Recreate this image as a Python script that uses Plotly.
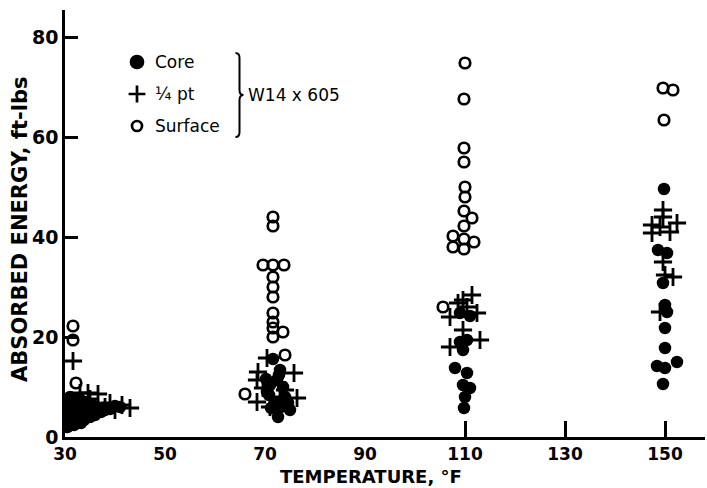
import plotly.graph_objects as go

# ---- data (temperature °F, absorbed energy ft-lbs) ----
core_T = [30.4, 30.8, 31.2, 31.5, 32.0, 32.6, 33.0, 33.6, 34.2, 35.0, 35.6, 36.4, 37.2, 38.0, 39.0, 40.0,
          31.8, 34.0, 33.2, 36.0, 30.6, 32.4, 34.8, 37.8, 41.0, 30.5, 33.8, 35.4, 31.0, 32.8,
          71.6, 73.0, 72.4, 71.0, 73.6, 70.8, 74.0, 72.0, 73.2, 75.0, 72.6, 71.2, 74.6, 70.4, 72.8, 70.2,
          109.0, 111.0, 109.0, 110.4, 109.6, 108.0, 110.4, 109.6, 111.0, 110.0, 109.8,
          149.8, 148.6, 150.4, 149.6, 150.0, 150.4, 150.0, 150.0, 148.4, 150.0, 152.4, 149.6]
core_E = [4.0, 6.0, 3.0, 7.0, 5.0, 3.6, 6.2, 4.6, 5.8, 4.0, 5.2, 6.0, 5.0, 5.4, 5.6, 6.2,
          2.4, 7.0, 2.8, 4.4, 6.6, 4.0, 6.6, 5.8, 6.0, 2.0, 3.4, 6.4, 8.0, 7.8,
          15.6, 13.4, 11.4, 10.4, 10.0, 8.4, 8.0, 7.0, 6.0, 5.4, 4.0, 5.8, 6.8, 9.0, 12.4, 11.6,
          24.8, 24.2, 19.0, 19.4, 17.4, 13.8, 12.8, 10.4, 9.8, 8.0, 5.8,
          49.6, 37.4, 36.8, 30.8, 26.4, 25.0, 21.8, 17.8, 14.2, 13.8, 15.0, 10.6]

qpt_T = [31.6, 33.0, 34.6, 36.6, 39.0, 41.4, 43.0, 35.0, 38.0, 32.0, 40.0, 36.0,
         70.4, 68.6, 75.8, 68.4, 69.6, 74.0, 76.4, 68.4, 73.0, 71.0,
         111.4, 109.6, 108.6, 112.4, 107.0, 110.4, 109.6, 113.0, 107.0,
         149.6, 149.6, 152.4, 147.4, 149.0, 151.0, 147.4, 149.6, 150.0, 151.6, 149.0]
qpt_E = [15.2, 8.8, 8.8, 8.6, 6.8, 6.4, 5.8, 7.6, 6.0, 5.0, 5.4, 5.4,
         15.8, 13.0, 12.8, 11.4, 9.8, 9.4, 7.8, 7.0, 8.0, 6.0,
         28.4, 27.4, 26.8, 24.8, 24.0, 26.0, 21.4, 19.4, 18.0,
         45.4, 44.0, 42.8, 42.4, 42.0, 41.0, 40.8, 35.0, 32.4, 32.0, 25.0]

surf_T = [31.6, 31.6, 32.2, 31.0, 31.4, 30.6, 33.0, 34.6,
          71.6, 71.6, 69.6, 71.6, 73.8, 71.6, 71.6, 71.6, 71.6, 71.6, 71.6, 73.6, 71.6, 74.0, 66.0,
          110.0, 109.8, 109.8, 109.8, 110.0, 110.0, 109.8, 111.4, 109.8, 107.6, 109.8, 111.8, 107.6, 109.8, 105.6,
          149.6, 151.6, 149.8]
surf_E = [22.2, 19.4, 10.8, 7.4, 4.4, 2.4, 6.4, 5.0,
          44.0, 42.2, 34.4, 34.4, 34.4, 32.0, 30.0, 28.0, 24.8, 23.0, 21.8, 21.0, 20.0, 16.4, 8.6,
          74.8, 67.6, 57.8, 55.0, 50.0, 48.0, 45.2, 43.8, 42.2, 40.2, 39.6, 39.0, 38.0, 37.6, 26.0,
          69.8, 69.4, 63.4]

x_ticks = [30, 50, 70, 90, 110, 130, 150]
x_marked = [110, 130, 150]
y_ticks = [0, 20, 40, 60, 80]

legend_labels = ["Core", "\u00bc pt", "Surface"]
legend_T = [44.4, 44.4, 44.4]
legend_E = [75.0, 68.6, 62.2]
group_label = "W14 x 605"

FONT = "DejaVu Sans"
X_RANGE = [30, 158]
Y_RANGE = [0, 85.4]

fig = go.Figure()
fig.add_trace(go.Scatter(x=surf_T, y=surf_E, mode="markers",
                         marker=dict(symbol="circle-open", size=10.5, color="black",
                                     line=dict(width=2.7, color="black"))))
fig.add_trace(go.Scatter(x=qpt_T, y=qpt_E, mode="markers",
                         marker=dict(symbol="cross-thin-open", size=13, color="black",
                                     line=dict(width=2.8, color="black"))))
fig.add_trace(go.Scatter(x=core_T, y=core_E, mode="markers",
                         marker=dict(symbol="circle", size=12.5, color="black", line=dict(width=0))))

# legend symbols (drawn on overlay axis that also carries the sparse x ticks)
leg_sym = ["circle", "cross-thin-open", "circle-open"]
leg_size = [12, 12, 10]
for i in range(3):
    fig.add_trace(go.Scatter(x=[legend_T[i]], y=[legend_E[i]], mode="markers", xaxis="x2",
                             marker=dict(symbol=leg_sym[i], size=leg_size[i], color="black",
                                         line=dict(width=2.7, color="black"))))
    fig.add_annotation(x=legend_T[i] + 3.2, y=legend_E[i], xref="x", yref="y",
                       text=legend_labels[i], showarrow=False, xanchor="left",
                       font=dict(family=FONT, size=17, color="black"))

# brace
bx0, bx1, bx2 = 64.1, 64.9, 65.7
yt, ym, yb = 76.8, 68.4, 60.0
path = (f"M {bx0},{yt} Q {bx1},{yt} {bx1},{yt-1.0} L {bx1},{ym+1.0} "
        f"Q {bx1},{ym} {bx2},{ym} Q {bx1},{ym} {bx1},{ym-1.0} "
        f"L {bx1},{yb+1.0} Q {bx1},{yb} {bx0},{yb}")
fig.add_shape(type="path", path=path, xref="x", yref="y", line=dict(color="black", width=2))
fig.add_annotation(x=bx2 + 0.4, y=ym, xref="x", yref="y", text=group_label, showarrow=False,
                   xanchor="left", font=dict(family=FONT, size=17, color="black"))

# axis titles
fig.add_annotation(x=91.2, y=-0.093, xref="x", yref="paper", text="TEMPERATURE, \u00b0F",
                   showarrow=False, yanchor="middle",
                   font=dict(family=FONT, size=18, color="black", weight="bold"))
fig.add_annotation(x=-0.0703, y=0.485, xref="paper", yref="paper", text="ABSORBED ENERGY, ft-lbs",
                   showarrow=False, textangle=-90, xanchor="center", yanchor="middle",
                   font=dict(family=FONT, size=21, color="black", weight="bold"))

fig.update_layout(
    width=707, height=488, margin=dict(l=65, r=2, t=10, b=51),
    paper_bgcolor="white", plot_bgcolor="white", showlegend=False,
    font=dict(family=FONT, size=18, color="black"),
    xaxis=dict(range=X_RANGE, tickvals=x_ticks, ticks="", showgrid=False, zeroline=False,
               showline=True, linecolor="black", linewidth=2.5,
               tickfont=dict(size=17, weight="bold")),
    xaxis2=dict(range=X_RANGE, overlaying="x", tickvals=x_marked, ticks="inside", ticklen=16,
                tickwidth=2.5, tickcolor="black", showticklabels=False, showgrid=False,
                zeroline=False, showline=False, side="bottom"),
    yaxis=dict(range=Y_RANGE, tickvals=y_ticks, ticks="inside", ticklen=13, tickwidth=2.5,
               tickcolor="black", showgrid=False, zeroline=False, showline=True,
               linecolor="black", linewidth=2.5, tickfont=dict(size=19, weight="bold")),
)

fig.write_html("out.html")
